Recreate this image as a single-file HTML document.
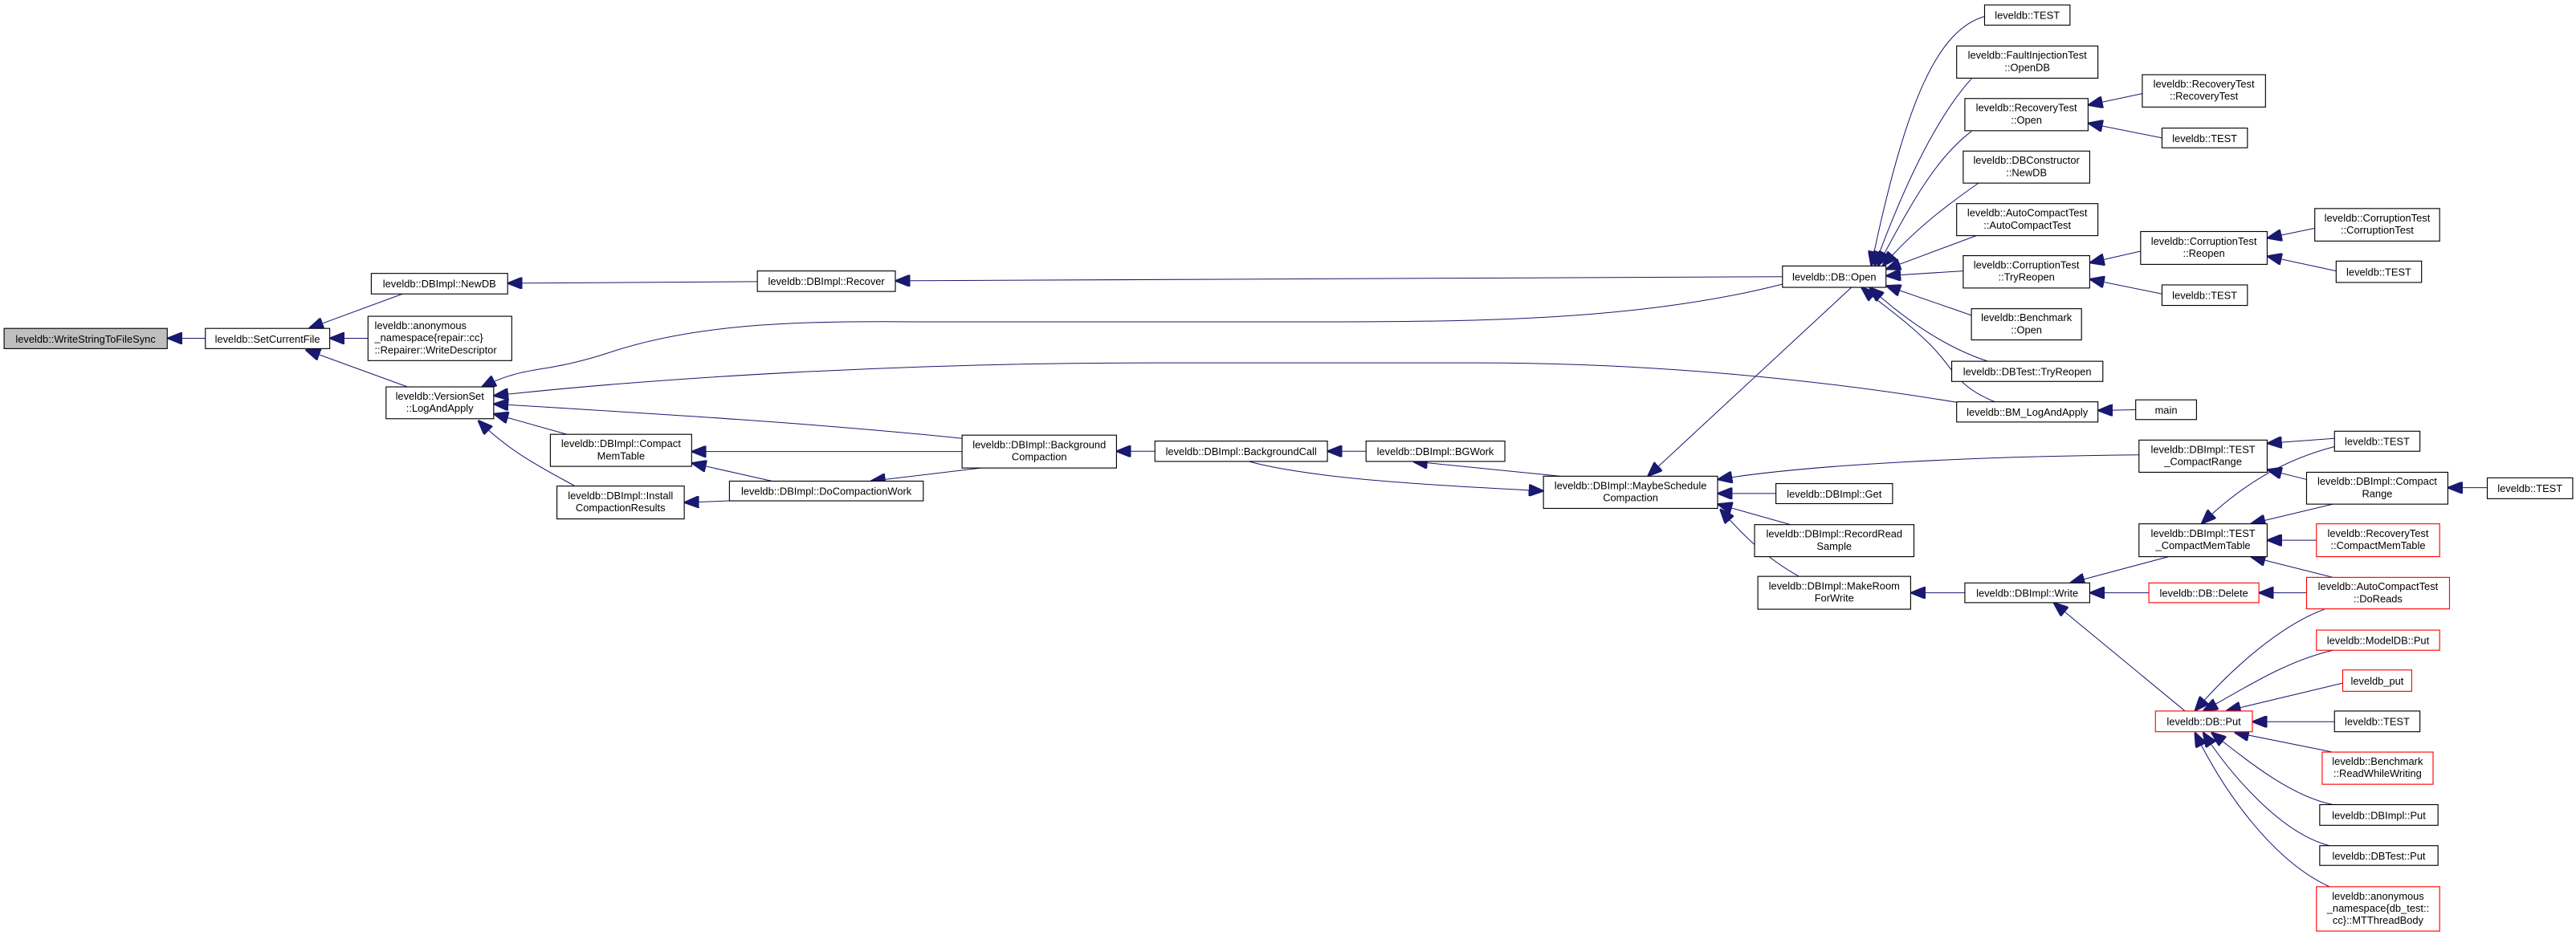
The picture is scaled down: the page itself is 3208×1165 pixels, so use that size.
<!DOCTYPE html>
<html><head><meta charset="utf-8"><style>
html,body{margin:0;padding:0;background:#fff;}
svg{display:block;}
text{font-family:"Liberation Sans",sans-serif;font-size:6.3px;fill:#000;}
.b{fill:#fff;stroke:#000;stroke-width:0.55;}
.r{fill:#fff;stroke:#ff0000;stroke-width:0.55;}
.g{fill:#bfbfbf;stroke:#000;stroke-width:0.55;}
.e{fill:none;stroke:#191970;stroke-width:0.5;marker-end:url(#a);}
</style></head><body>
<svg width="3208" height="1165" viewBox="0 0 1568 569.4" preserveAspectRatio="none" xmlns="http://www.w3.org/2000/svg">
<defs><marker id="a" viewBox="0 0 10 8" markerWidth="9" markerHeight="7.2" refX="10" refY="4" orient="auto" markerUnits="userSpaceOnUse"><path d="M0,0 L10,4 L0,8 z" fill="#191970" stroke="#191970"/></marker></defs>

<!-- edges -->
<path class="e" d="M125,206 L102,206"/>
<path class="e" d="M245,179 L188,200"/>
<path class="e" d="M224,206 L200.7,206"/>
<path class="e" d="M248,235.6 L186,213"/>
<path class="e" d="M461,171.5 L309,172.5"/>
<path class="e" d="M1085,168.5 L545,171"/>
<path class="e" d="M1085,173 C1000,195 900,196 800,196 L560,196 C480,195 420,198 370,215 C330,228 320,222 293,236"/>
<path class="e" d="M1191,245 C1100,230 1000,221 900,221 L700,221 C550,221 400,230 300.5,241"/>
<path class="e" d="M585.6,267 C500,258 400,252 300.5,246"/>
<path class="e" d="M345,264.5 L300.5,252"/>
<path class="e" d="M350,296 C330,285 310,275 291,256"/>
<path class="e" d="M585.6,275 L421,275"/>
<path class="e" d="M470,293 L421,282"/>
<path class="e" d="M444,305 L416.5,306"/>
<path class="e" d="M597,285 L530,293"/>
<path class="e" d="M703,274.8 L679.5,274.8"/>
<path class="e" d="M831.5,274.8 L808,274.8"/>
<path class="e" d="M950,290 L860,281"/>
<path class="e" d="M760,281 C800,292 880,296 939.5,299"/>
<path class="e" d="M1127,175 L1003,290"/>
<path class="e" d="M1081,300.5 L1045.5,300.5"/>
<path class="e" d="M1090,319.5 L1045.5,307"/>
<path class="e" d="M1095,351 C1075,340 1060,325 1047,310"/>
<path class="e" d="M1302,277 C1200,278 1100,283 1045.5,292"/>
<path class="e" d="M1196,361 L1163,361"/>
<path class="e" d="M1320,339 L1260,355"/>
<path class="e" d="M1308,361 L1272,361"/>
<path class="e" d="M1330,433 L1250,367"/>
<path class="e" d="M1404,361 L1375,361"/>
<path class="e" d="M1208,10 C1180,18 1160,60 1139,162"/>
<path class="e" d="M1200,48 C1180,70 1160,110 1141,162"/>
<path class="e" d="M1200,80 C1180,95 1165,120 1143,162"/>
<path class="e" d="M1205,111 C1185,125 1165,140 1146,162"/>
<path class="e" d="M1203,143.5 L1148,164"/>
<path class="e" d="M1195,165 L1148,168"/>
<path class="e" d="M1200,192 L1148,174"/>
<path class="e" d="M1210,220 C1185,212 1160,195 1138,175"/>
<path class="e" d="M1215,245 C1190,235 1190,225 1175,210 C1160,195 1145,185 1133,175"/>
<path class="e" d="M1300,249.5 L1277,250"/>
<path class="e" d="M1304,57 L1271,64"/>
<path class="e" d="M1316,84 L1271,75"/>
<path class="e" d="M1303,153 L1272,160"/>
<path class="e" d="M1316,179 L1272,170"/>
<path class="e" d="M1409,139 L1380,145"/>
<path class="e" d="M1422,165 L1380,156"/>
<path class="e" d="M1421,267 L1380,270"/>
<path class="e" d="M1404,292 L1380,286"/>
<path class="e" d="M1421,272 C1390,280 1365,295 1340,319"/>
<path class="e" d="M1420,307 L1370,319"/>
<path class="e" d="M1410,329 L1380,329"/>
<path class="e" d="M1420,351.6 L1370,339"/>
<path class="e" d="M1514,297 L1490,297"/>
<path class="e" d="M1415,371 C1390,380 1360,405 1336,433"/>
<path class="e" d="M1420,396 C1390,403 1365,420 1341,433"/>
<path class="e" d="M1426,416 L1355,433"/>
<path class="e" d="M1421,439.5 L1371,439.5"/>
<path class="e" d="M1420,458 L1360,446"/>
<path class="e" d="M1420,490 C1395,485 1370,465 1346,446"/>
<path class="e" d="M1418,515 C1390,508 1360,475 1341,446"/>
<path class="e" d="M1418,540 C1385,525 1355,485 1336,446"/>

<!-- nodes -->
<rect class="g" x="2.5" y="200" width="99.3" height="12.3"/><text x="52.1" y="208.6" text-anchor="middle">leveldb::WriteStringToFileSync</text>
<rect class="b" x="125" y="200" width="75.7" height="12.3"/><text x="162.8" y="208.6" text-anchor="middle">leveldb::SetCurrentFile</text>
<rect class="b" x="226" y="166.5" width="83" height="12.5"/><text x="267.5" y="175.1" text-anchor="middle">leveldb::DBImpl::NewDB</text>
<rect class="b" x="224" y="192.6" width="87.5" height="27"/><text x="228" y="200.4">leveldb::anonymous</text><text x="228" y="207.8">_namespace{repair::cc}</text><text x="228" y="215.2">::Repairer::WriteDescriptor</text>
<rect class="b" x="235" y="235.6" width="65.5" height="19.4"/><text x="267.7" y="243.4" text-anchor="middle">leveldb::VersionSet</text><text x="267.7" y="250.8" text-anchor="middle">::LogAndApply</text>
<rect class="b" x="461" y="165" width="84" height="12.5"/><text x="503" y="173.6" text-anchor="middle">leveldb::DBImpl::Recover</text>
<rect class="b" x="335" y="264.5" width="86" height="19.5"/><text x="378" y="272.3" text-anchor="middle">leveldb::DBImpl::Compact</text><text x="378" y="279.7" text-anchor="middle">MemTable</text>
<rect class="b" x="339" y="296" width="77.5" height="20"/><text x="377.7" y="304" text-anchor="middle">leveldb::DBImpl::Install</text><text x="377.7" y="311.4" text-anchor="middle">CompactionResults</text>
<rect class="b" x="444" y="293" width="118" height="12"/><text x="503" y="301.4" text-anchor="middle">leveldb::DBImpl::DoCompactionWork</text>
<rect class="b" x="585.6" y="265" width="94" height="20"/><text x="632.6" y="273" text-anchor="middle">leveldb::DBImpl::Background</text><text x="632.6" y="280.4" text-anchor="middle">Compaction</text>
<rect class="b" x="703" y="268.6" width="105" height="12.4"/><text x="755.5" y="277.2" text-anchor="middle">leveldb::DBImpl::BackgroundCall</text>
<rect class="b" x="831.5" y="268.6" width="84.5" height="12.4"/><text x="873.7" y="277.2" text-anchor="middle">leveldb::DBImpl::BGWork</text>
<rect class="b" x="939.5" y="290" width="106" height="19.6"/><text x="992.5" y="297.8" text-anchor="middle">leveldb::DBImpl::MaybeSchedule</text><text x="992.5" y="305.2" text-anchor="middle">Compaction</text>
<rect class="b" x="1085" y="162" width="63" height="13"/><text x="1116.5" y="170.8" text-anchor="middle">leveldb::DB::Open</text>
<rect class="b" x="1081" y="294.5" width="71" height="12.2"/><text x="1116.5" y="303" text-anchor="middle">leveldb::DBImpl::Get</text>
<rect class="b" x="1068" y="319.5" width="97" height="19.5"/><text x="1116.5" y="327.3" text-anchor="middle">leveldb::DBImpl::RecordRead</text><text x="1116.5" y="334.7" text-anchor="middle">Sample</text>
<rect class="b" x="1070" y="351" width="93" height="20"/><text x="1116.5" y="359" text-anchor="middle">leveldb::DBImpl::MakeRoom</text><text x="1116.5" y="366.4" text-anchor="middle">ForWrite</text>
<rect class="b" x="1196" y="355" width="76" height="12"/><text x="1234" y="363.4" text-anchor="middle">leveldb::DBImpl::Write</text>
<rect class="b" x="1208" y="3" width="52" height="12.3"/><text x="1234" y="11.6" text-anchor="middle">leveldb::TEST</text>
<rect class="b" x="1191" y="28" width="86" height="19.6"/><text x="1234" y="35.8" text-anchor="middle">leveldb::FaultInjectionTest</text><text x="1234" y="43.2" text-anchor="middle">::OpenDB</text>
<rect class="b" x="1196" y="60" width="75" height="19.6"/><text x="1233.5" y="67.8" text-anchor="middle">leveldb::RecoveryTest</text><text x="1233.5" y="75.2" text-anchor="middle">::Open</text>
<rect class="b" x="1195" y="92" width="77" height="19.5"/><text x="1233.5" y="99.8" text-anchor="middle">leveldb::DBConstructor</text><text x="1233.5" y="107.2" text-anchor="middle">::NewDB</text>
<rect class="b" x="1191" y="124" width="86" height="19.5"/><text x="1234" y="131.8" text-anchor="middle">leveldb::AutoCompactTest</text><text x="1234" y="139.2" text-anchor="middle">::AutoCompactTest</text>
<rect class="b" x="1195" y="155.7" width="77" height="19.7"/><text x="1233.5" y="163.5" text-anchor="middle">leveldb::CorruptionTest</text><text x="1233.5" y="170.9" text-anchor="middle">::TryReopen</text>
<rect class="b" x="1200" y="188" width="67" height="19"/><text x="1233.5" y="195.6" text-anchor="middle">leveldb::Benchmark</text><text x="1233.5" y="203" text-anchor="middle">::Open</text>
<rect class="b" x="1188" y="220" width="92" height="12.3"/><text x="1234" y="228.6" text-anchor="middle">leveldb::DBTest::TryReopen</text>
<rect class="b" x="1191" y="244.7" width="86" height="12.3"/><text x="1234" y="253.3" text-anchor="middle">leveldb::BM_LogAndApply</text>
<rect class="b" x="1300" y="243.5" width="37" height="12"/><text x="1318.5" y="251.9" text-anchor="middle">main</text>
<rect class="b" x="1304" y="45.5" width="75" height="19.7"/><text x="1341.5" y="53.3" text-anchor="middle">leveldb::RecoveryTest</text><text x="1341.5" y="60.7" text-anchor="middle">::RecoveryTest</text>
<rect class="b" x="1316" y="78" width="52" height="12"/><text x="1342" y="86.4" text-anchor="middle">leveldb::TEST</text>
<rect class="b" x="1303" y="141" width="77" height="20"/><text x="1341.5" y="149" text-anchor="middle">leveldb::CorruptionTest</text><text x="1341.5" y="156.4" text-anchor="middle">::Reopen</text>
<rect class="b" x="1316" y="173.5" width="52" height="12.5"/><text x="1342" y="182.1" text-anchor="middle">leveldb::TEST</text>
<rect class="b" x="1409" y="127" width="76" height="19.8"/><text x="1447" y="134.8" text-anchor="middle">leveldb::CorruptionTest</text><text x="1447" y="142.2" text-anchor="middle">::CorruptionTest</text>
<rect class="b" x="1422" y="159" width="52" height="13"/><text x="1448" y="167.8" text-anchor="middle">leveldb::TEST</text>
<rect class="b" x="1302" y="268" width="78" height="19.6"/><text x="1341" y="275.8" text-anchor="middle">leveldb::DBImpl::TEST</text><text x="1341" y="283.2" text-anchor="middle">_CompactRange</text>
<rect class="b" x="1421" y="262.6" width="52" height="12.2"/><text x="1447" y="271.1" text-anchor="middle">leveldb::TEST</text>
<rect class="b" x="1404" y="287.6" width="86" height="19.4"/><text x="1447" y="295.3" text-anchor="middle">leveldb::DBImpl::Compact</text><text x="1447" y="302.7" text-anchor="middle">Range</text>
<rect class="b" x="1514" y="291" width="52" height="12.7"/><text x="1540" y="299.7" text-anchor="middle">leveldb::TEST</text>
<rect class="b" x="1302" y="319" width="78" height="20"/><text x="1341" y="327" text-anchor="middle">leveldb::DBImpl::TEST</text><text x="1341" y="334.4" text-anchor="middle">_CompactMemTable</text>
<rect class="r" x="1410" y="319" width="75" height="20"/><text x="1447.5" y="327" text-anchor="middle">leveldb::RecoveryTest</text><text x="1447.5" y="334.4" text-anchor="middle">::CompactMemTable</text>
<rect class="r" x="1308" y="355" width="67" height="12"/><text x="1341.5" y="363.4" text-anchor="middle">leveldb::DB::Delete</text>
<rect class="r" x="1404" y="351.6" width="87" height="19.2"/><text x="1447.5" y="359.3" text-anchor="middle">leveldb::AutoCompactTest</text><text x="1447.5" y="366.7" text-anchor="middle">::DoReads</text>
<rect class="r" x="1410" y="383.7" width="75" height="12.3"/><text x="1447.5" y="392.3" text-anchor="middle">leveldb::ModelDB::Put</text>
<rect class="r" x="1426" y="408" width="42" height="13"/><text x="1447" y="416.8" text-anchor="middle">leveldb_put</text>
<rect class="b" x="1421" y="433" width="52" height="12.6"/><text x="1447" y="441.7" text-anchor="middle">leveldb::TEST</text>
<rect class="r" x="1413.5" y="458" width="67.5" height="19.6"/><text x="1447.2" y="465.8" text-anchor="middle">leveldb::Benchmark</text><text x="1447.2" y="473.2" text-anchor="middle">::ReadWhileWriting</text>
<rect class="b" x="1412" y="490" width="72" height="12.6"/><text x="1448" y="498.7" text-anchor="middle">leveldb::DBImpl::Put</text>
<rect class="b" x="1412" y="515" width="72" height="12"/><text x="1448" y="523.4" text-anchor="middle">leveldb::DBTest::Put</text>
<rect class="r" x="1410" y="540" width="75" height="27"/><text x="1447.5" y="547.8" text-anchor="middle">leveldb::anonymous</text><text x="1447.5" y="555.2" text-anchor="middle">_namespace{db_test::</text><text x="1447.5" y="562.6" text-anchor="middle">cc}::MTThreadBody</text>
<rect class="r" x="1312" y="433" width="59" height="12.6"/><text x="1341.5" y="441.7" text-anchor="middle">leveldb::DB::Put</text>
</svg>
</body></html>
